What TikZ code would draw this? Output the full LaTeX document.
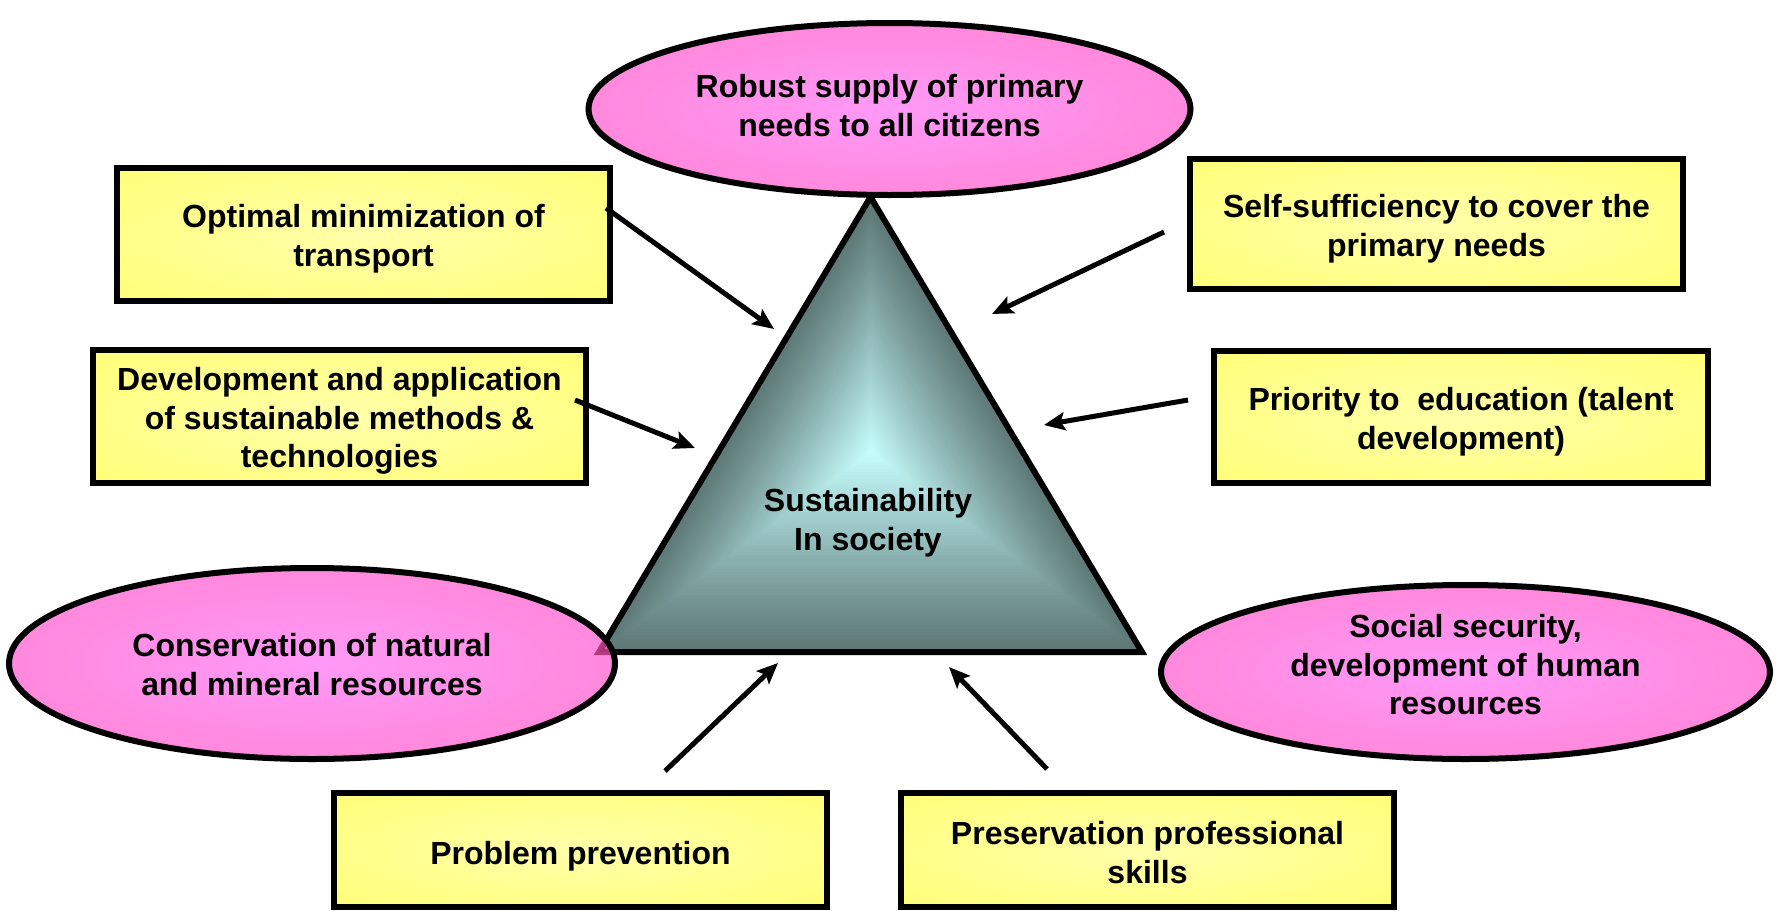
\documentclass[tikz,border=0pt]{standalone}
\usepackage{fontspec}
\setmainfont{Liberation Sans}
\usetikzlibrary{arrows.meta,shapes.geometric,calc}
\definecolor{ylin}{HTML}{FFFFAA}
\definecolor{ylout}{HTML}{FFFF5C}
\definecolor{pkin}{HTML}{FF99F8}
\definecolor{pkout}{HTML}{FF78C0}
\definecolor{tlight}{HTML}{C8FFFF}
\definecolor{tdark}{HTML}{5D7876}
\definecolor{tcorner}{HTML}{A02868}
\pgfdeclareradialshading{yel}{\pgfpoint{0bp}{0bp}}{color(0bp)=(ylin); color(55bp)=(ylout); color(80bp)=(ylout)}
\pgfdeclareradialshading{pnk}{\pgfpoint{0bp}{0bp}}{color(0bp)=(pkin); color(50bp)=(pkout); color(80bp)=(pkout)}
\newcommand{\lblfont}{\bfseries\fontsize{32}{38.6}\selectfont}
\newcommand{\mytxt}[2]{\raisebox{#1}[\height][\depth]{\begin{tabular}{@{}c@{}}#2\end{tabular}}}
\begin{document}
\begin{tikzpicture}[x=1pt,y=-1pt,
  box/.style={draw, line width=6pt, shading=yel, minimum width=493pt, minimum height=133pt, inner sep=0pt, font=\lblfont},
  oval/.style={ellipse, draw, line width=6pt, shading=pnk, inner sep=0pt, font=\lblfont},
  arr/.style={line width=5pt, -{Stealth[length=21pt,width=18pt,inset=4pt]}}]
\useasboundingbox (0,0) rectangle (1782,910);

% triangle with path gradient
\coordinate (apex) at (870.5,197);
\coordinate (bl) at (599,652);
\coordinate (br) at (1142,652);
\coordinate (tc) at (871,452);
\fill[tdark] (apex) -- (bl) -- (br) -- cycle;
\foreach \i in {1,...,59}{
  \pgfmathsetmacro{\s}{1-\i/60}
  \pgfmathsetmacro{\p}{100*(\i/60)^1.1}
  \fill[tlight!\p!tdark]
    ($(tc)!\s!(apex)$) -- ($(tc)!\s!(bl)$) -- ($(tc)!\s!(br)$) -- cycle;
}
\draw[line width=6pt, line join=miter] (apex) -- (bl) -- (br) -- cycle;
\node[font=\lblfont] (core) at (868,519) {\mytxt{-4.5pt}{Sustainability\\In society}};

% ellipses
\node[oval, minimum width=602pt, minimum height=172pt] (top) at (889.5,109) {\mytxt{0pt}{Robust supply of primary\\needs to all citizens}};
\node[oval, minimum width=606pt, minimum height=191pt] (left) at (312,663.5) {\mytxt{-4.5pt}{Conservation of natural\\and mineral resources}};
\begin{scope}
  \clip (left.center) ellipse [x radius=300pt, y radius=92pt];
  \fill[tcorner, opacity=0.35] (apex) -- (bl) -- (br) -- cycle;
  \draw[tcorner, opacity=0.8, line width=6pt, line join=miter] (apex) -- (bl) -- (br) -- cycle;
\end{scope}
\node[oval, minimum width=609pt, minimum height=174pt] (right) at (1465.5,672) {\mytxt{3.5pt}{Social security,\\development of human\\resources}};

% boxes
\node[box] (opt) at (363.5,234.5) {\mytxt{-4.5pt}{Optimal minimization of\\transport}};
\node[box] (dev) at (339.5,416.5) {\mytxt{-5pt}{Development and application\\of sustainable methods \&\\technologies}};
\node[box, minimum height=130pt] (self) at (1436.5,224) {\mytxt{-5.5pt}{Self-sufficiency to cover the\\primary needs}};
\node[box, minimum width=494pt, minimum height=132pt] (prio) at (1461,417) {\mytxt{-5.5pt}{Priority to\ \ education (talent\\development)}};
\node[box, minimum height=114pt] (prob) at (580.5,850) {\mytxt{-6.5pt}{Problem prevention}};
\node[box, minimum height=114pt] (pres) at (1147.5,850) {\mytxt{-6.5pt}{Preservation professional\\skills}};

% arrows
\coordinate (a1s) at (606,208);  \coordinate (a1e) at (774,329);
\coordinate (a2s) at (575,400);  \coordinate (a2e) at (695,448);
\coordinate (a3s) at (1164,232); \coordinate (a3e) at (992,314);
\coordinate (a4s) at (1188,400); \coordinate (a4e) at (1044,425);
\coordinate (a5s) at (665,771);  \coordinate (a5e) at (778,663);
\coordinate (a6s) at (1047,769); \coordinate (a6e) at (949,667);
\draw[arr] (a1s) -- (a1e);
\draw[arr] (a2s) -- (a2e);
\draw[arr] (a3s) -- (a3e);
\draw[arr] (a4s) -- (a4e);
\draw[arr] (a5s) -- (a5e);
\draw[arr] (a6s) -- (a6e);
\end{tikzpicture}
\end{document}
